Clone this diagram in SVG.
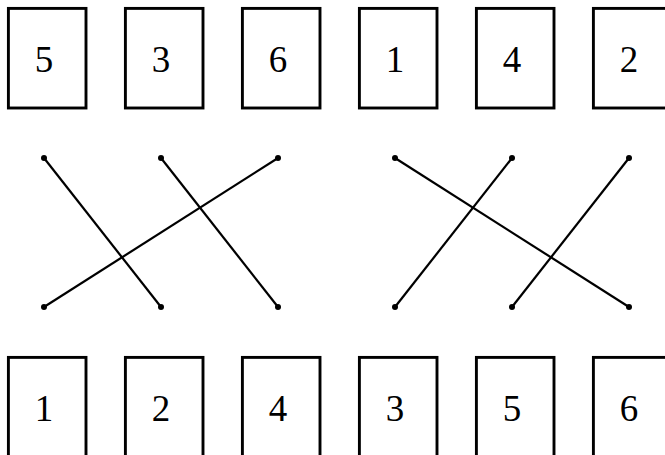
<svg xmlns="http://www.w3.org/2000/svg" width="665" height="455" viewBox="0 0 665 455">
<style>
.box{fill:#fff;stroke:#000;stroke-width:2.9}
.lbl{font-family:"Liberation Serif","DejaVu Serif",serif;font-size:37px;text-anchor:middle;fill:#000}
.edge{stroke:#000;stroke-width:2.2;fill:none}
.dot{fill:#000}
</style>
<rect width="665" height="455" fill="#fff"/>
<g id="top-5"><rect class="box" x="8.4" y="8.4" width="77.6" height="99.6"/><text class="lbl" x="44" y="72">5</text></g>
<g id="top-3"><rect class="box" x="125.4" y="8.4" width="77.6" height="99.6"/><text class="lbl" x="161" y="72">3</text></g>
<g id="top-6"><rect class="box" x="242.4" y="8.4" width="77.6" height="99.6"/><text class="lbl" x="278" y="72">6</text></g>
<g id="top-1"><rect class="box" x="359.4" y="8.4" width="77.6" height="99.6"/><text class="lbl" x="395" y="72">1</text></g>
<g id="top-4"><rect class="box" x="476.4" y="8.4" width="77.6" height="99.6"/><text class="lbl" x="512" y="72">4</text></g>
<g id="top-2"><rect class="box" x="593.4" y="8.4" width="77.6" height="99.6"/><text class="lbl" x="629" y="72">2</text></g>
<g id="bot-1"><rect class="box" x="8.4" y="357.4" width="77.6" height="120"/><text class="lbl" x="44" y="421">1</text></g>
<g id="bot-2"><rect class="box" x="125.4" y="357.4" width="77.6" height="120"/><text class="lbl" x="161" y="421">2</text></g>
<g id="bot-4"><rect class="box" x="242.4" y="357.4" width="77.6" height="120"/><text class="lbl" x="278" y="421">4</text></g>
<g id="bot-3"><rect class="box" x="359.4" y="357.4" width="77.6" height="120"/><text class="lbl" x="395" y="421">3</text></g>
<g id="bot-5"><rect class="box" x="476.4" y="357.4" width="77.6" height="120"/><text class="lbl" x="512" y="421">5</text></g>
<g id="bot-6"><rect class="box" x="593.4" y="357.4" width="77.6" height="120"/><text class="lbl" x="629" y="421">6</text></g>
<g id="connectors">
<line class="edge" x1="44" y1="158" x2="161" y2="307"/>
<line class="edge" x1="161" y1="158" x2="278" y2="307"/>
<line class="edge" x1="278" y1="158" x2="44" y2="307"/>
<line class="edge" x1="395" y1="158" x2="629" y2="307"/>
<line class="edge" x1="512" y1="158" x2="395" y2="307"/>
<line class="edge" x1="629" y1="158" x2="512" y2="307"/>
<circle class="dot" cx="44" cy="158" r="3"/>
<circle class="dot" cx="161" cy="158" r="3"/>
<circle class="dot" cx="278" cy="158" r="3"/>
<circle class="dot" cx="395" cy="158" r="3"/>
<circle class="dot" cx="512" cy="158" r="3"/>
<circle class="dot" cx="629" cy="158" r="3"/>
<circle class="dot" cx="44" cy="307" r="3"/>
<circle class="dot" cx="161" cy="307" r="3"/>
<circle class="dot" cx="278" cy="307" r="3"/>
<circle class="dot" cx="395" cy="307" r="3"/>
<circle class="dot" cx="512" cy="307" r="3"/>
<circle class="dot" cx="629" cy="307" r="3"/>
</g>
</svg>
